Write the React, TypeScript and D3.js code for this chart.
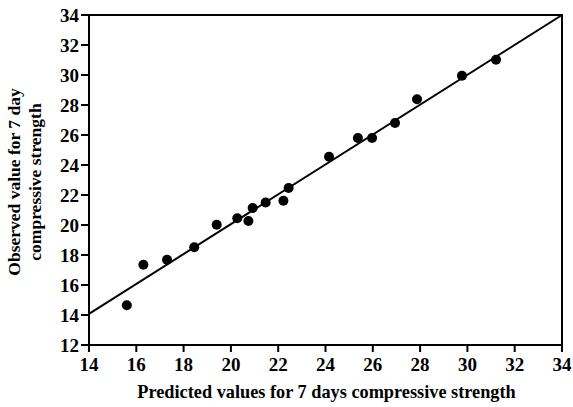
import React from "react";
import * as d3 from "d3";

const predicted = [15.6, 16.3, 17.3, 18.45, 19.4, 20.27, 20.74, 20.92, 21.47, 22.22, 22.44, 24.15, 25.37, 25.97, 26.94, 27.87, 29.77, 31.21];
const observed = [14.65, 17.35, 17.68, 18.52, 20.02, 20.45, 20.27, 21.13, 21.5, 21.62, 22.47, 24.55, 25.8, 25.8, 26.8, 28.38, 29.95, 31.02];
const fitX = [14, 34];
const fitY = [14.08, 34];
const xTicks = [14, 16, 18, 20, 22, 24, 26, 28, 30, 32, 34];
const yTicks = [12, 14, 16, 18, 20, 22, 24, 26, 28, 30, 32, 34];
const xTitle = "Predicted values for 7 days compressive strength";
const yTitle = ["Observed value for 7 day", "compressive strength"];

const W = 573, H = 407;
const left = 89, right = 562, top = 15, bottom = 345;
const font = "'Liberation Serif', 'Times New Roman', serif";

export default function App() {
  const x = d3.scaleLinear().domain([14, 34]).range([left, right]);
  const y = d3.scaleLinear().domain([12, 34]).range([bottom, top]);
  const line = d3.line<number>().x((d, i) => x(fitX[i])).y((d, i) => y(fitY[i]));
  return (
    <svg width={W} height={H} style={{ position: "absolute", left: 0, top: 0 }}>
      <rect x={0} y={0} width={W} height={H} fill="#fff" />
      <path d={line(fitX) || ""} fill="none" stroke="#000" strokeWidth={2} />
      {predicted.map((p, i) => (
        <circle key={i} cx={x(p)} cy={y(observed[i])} r={5} fill="#000" />
      ))}
      <rect x={left} y={top} width={right - left} height={bottom - top} fill="none" stroke="#000" strokeWidth={2} />
      {xTicks.map((t) => (
        <g key={"x" + t}>
          <line x1={x(t)} x2={x(t)} y1={bottom} y2={bottom + 7} stroke="#000" strokeWidth={2} />
          <text x={x(t)} y={bottom + 26} textAnchor="middle" fontFamily={font} fontWeight="bold" fontSize={19}>{t}</text>
        </g>
      ))}
      {yTicks.map((t) => (
        <g key={"y" + t}>
          <line x1={left - 8} x2={left} y1={y(t)} y2={y(t)} stroke="#000" strokeWidth={2} />
          <text x={left - 10} y={y(t) + 6.5} textAnchor="end" fontFamily={font} fontWeight="bold" fontSize={19}>{t}</text>
        </g>
      ))}
      <text x={(left + right) / 2 + 1} y={398} textAnchor="middle" fontFamily={font} fontWeight="bold" fontSize={18.3}>{xTitle}</text>
      <g transform={`translate(0, ${(top + bottom) / 2 + 2}) rotate(-90)`}>
        <text x={0} y={20} textAnchor="middle" fontFamily={font} fontWeight="bold" fontSize={17.5}>{yTitle[0]}</text>
        <text x={0} y={41} textAnchor="middle" fontFamily={font} fontWeight="bold" fontSize={17.5}>{yTitle[1]}</text>
      </g>
    </svg>
  );
}
